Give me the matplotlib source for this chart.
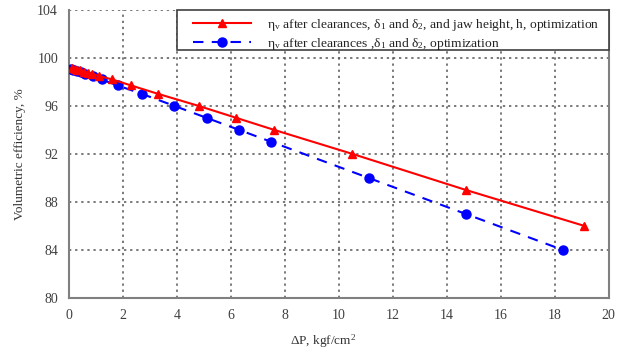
import numpy as np
import matplotlib.pyplot as plt
from matplotlib.patches import Rectangle

plt.rcParams['font.family'] = ['Liberation Serif', 'DejaVu Serif']
plt.rcParams['mathtext.fontset'] = 'custom'
plt.rcParams['mathtext.rm'] = 'Liberation Serif'
plt.rcParams['mathtext.it'] = 'Liberation Serif:italic'

# data
dp_jaw = [0.1, 0.2, 0.3, 0.4, 0.55, 0.7, 0.85, 1.1, 1.6, 2.3, 3.3, 4.8, 6.2, 7.6, 10.5, 14.7, 19.1]
eta_jaw = [99.15, 99.1, 99.0, 98.95, 98.85, 98.75, 98.65, 98.5, 98.2, 97.7, 97.0, 96.0, 95.0, 94.0, 92.0, 89.0, 86.0]

dp_clr = [0.05, 0.15, 0.3, 0.45, 0.6, 0.88, 1.2, 1.8, 2.7, 3.9, 5.1, 6.3, 7.5, 11.1, 14.7, 18.3]
eta_clr = [99.1, 99.0, 98.9, 98.8, 98.65, 98.45, 98.2, 97.7, 97.0, 96.0, 95.0, 94.0, 93.0, 90.0, 87.0, 84.0]

x_ticks = np.arange(0, 21, 2)
y_ticks = np.arange(80, 105, 4)

label_jaw = r"η$_\mathrm{v}$ after clearances, δ$_1$ and δ$_2$, and jaw height, h, optimization"
label_clr = r"η$_\mathrm{v}$ after clearances ,δ$_1$ and δ$_2$, optimization"

fig = plt.figure(figsize=(6.23, 3.53), dpi=100)
ax = fig.add_axes([0.111, 0.156, 0.866, 0.816])

ax.plot(dp_clr, eta_clr, '--', color='#0000ff', lw=1.5, dashes=(5, 4), marker='o', ms=6.5,
        label=label_clr, zorder=3)
ax.plot(dp_jaw, eta_jaw, '-', color='#ff0000', lw=1.5, marker='^', ms=6, label=label_jaw, zorder=4)

ax.set_xlim(0, 20)
ax.set_ylim(80, 104)
ax.set_xticks(x_ticks)
ax.set_yticks(y_ticks)
ax.tick_params(length=0, labelsize=10, colors='#404040', pad=8)
ax.grid(True, linestyle=(0, (1.5, 2.5)), color='#555555', lw=1.1)

ax.spines['top'].set_visible(False)
for side in ['left', 'bottom', 'right']:
    ax.spines[side].set_color('#808080')
    ax.spines[side].set_linewidth(1.5)

ax.set_xlabel(r"ΔP, kgf/cm$^2$", fontsize=9.5, color='#333333')
ax.xaxis.set_label_coords(0.47, -0.12)
ax.set_ylabel("Volumetric efficiency, %", fontsize=9.5, color='#333333')
ax.yaxis.set_label_coords(-0.08, 0.5)

# legend box
ax.add_patch(Rectangle((0.2, 0.861), 0.8, 0.139, transform=ax.transAxes, facecolor='white',
                       edgecolor='#404040', lw=1.2, zorder=5, clip_on=False))
handles, labels = ax.get_legend_handles_labels()
leg = ax.legend(handles[::-1], labels[::-1], loc='upper left', bbox_to_anchor=(0.229, 0.975),
                borderaxespad=0, borderpad=0, frameon=False, fontsize=9.7,
                handlelength=4.3, handletextpad=1.2, labelspacing=0.2)
leg.set_zorder(6)
for t in leg.get_texts():
    t.set_color('#222222')

fig.savefig('out.png', dpi=100)
